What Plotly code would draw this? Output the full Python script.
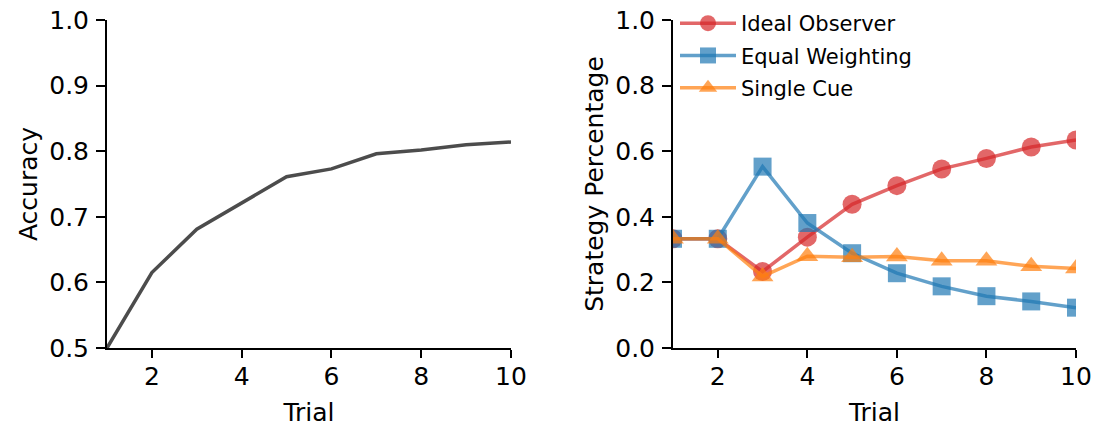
import plotly.graph_objects as go

trials = [1, 2, 3, 4, 5, 6, 7, 8, 9, 10]
accuracy = [0.500, 0.615, 0.681, 0.721, 0.761, 0.773, 0.796, 0.802, 0.810, 0.814]
ideal_observer = [0.333, 0.333, 0.233, 0.338, 0.438, 0.495, 0.546, 0.578, 0.613, 0.634]
equal_weighting = [0.333, 0.333, 0.553, 0.381, 0.289, 0.228, 0.188, 0.158, 0.142, 0.123]
single_cue = [0.333, 0.333, 0.218, 0.280, 0.277, 0.279, 0.266, 0.266, 0.249, 0.242]
x_ticks = [2, 4, 6, 8, 10]
acc_ticks = [0.5, 0.6, 0.7, 0.8, 0.9, 1.0]
strat_ticks = [0.0, 0.2, 0.4, 0.6, 0.8, 1.0]

W, H = 1095, 427
FONT = "DejaVu Sans"
L, R, T, B = 107, W - 1076, 20, H - 348
PW = W - L - R

fig = go.Figure()

fig.add_trace(go.Scatter(
    x=trials, y=accuracy, mode="lines",
    line=dict(color="rgba(0,0,0,0.7)", width=3.5),
    showlegend=False, xaxis="x", yaxis="y",
))

series = [
    ("Ideal Observer", ideal_observer, "rgba(214,39,40,0.7)", "circle", 19),
    ("Equal Weighting", equal_weighting, "rgba(31,119,180,0.7)", "square", 18),
    ("Single Cue", single_cue, "rgba(255,127,14,0.7)", "triangle-up", 19),
]
for name, vals, col, sym, sz in series:
    fig.add_trace(go.Scatter(
        x=trials, y=vals, mode="lines+markers", name=name, legendgroup=name,
        line=dict(color=col, width=3.5),
        marker=dict(color=col, symbol=sym, size=sz, line=dict(width=0)),
        xaxis="x2", yaxis="y2",
    ))

axis_common = dict(
    showline=True, linecolor="black", linewidth=2,
    ticks="outside", tickwidth=2, tickcolor="black",
    showgrid=False, zeroline=False, automargin=False,
    ticklabeloverflow="allow",
    tickfont=dict(family=FONT, size=25, color="black"),
)
xtitle = dict(text="Trial", font=dict(family=FONT, size=25, color="black"), standoff=15)

fig.update_layout(
    width=W, height=H,
    margin=dict(l=L, r=R, t=T, b=B, autoexpand=False),
    paper_bgcolor="white", plot_bgcolor="white",
    font=dict(family=FONT, color="black"),
    xaxis=dict(domain=[0, (511 - L) / PW], range=[1, 10], tickvals=x_ticks,
               ticklen=8, ticklabelstandoff=-3,
               title=xtitle, anchor="y", **axis_common),
    yaxis=dict(domain=[0, 1], range=[0.5, 1.0], tickvals=acc_ticks, tickformat=".1f",
               ticklen=9, ticklabelstandoff=2,
               title=dict(text="Accuracy", font=dict(family=FONT, size=25, color="black"), standoff=4),
               anchor="x", **axis_common),
    xaxis2=dict(domain=[(673 - L) / PW, 1], range=[1, 10], tickvals=x_ticks,
                ticklen=8, ticklabelstandoff=-3,
                title=xtitle, anchor="y2", **axis_common),
    yaxis2=dict(domain=[0, 1], range=[0, 1.0], tickvals=strat_ticks, tickformat=".1f",
                ticklen=9, ticklabelstandoff=2,
                title=dict(text="Strategy Percentage", font=dict(family=FONT, size=25, color="black"), standoff=4),
                anchor="x2", **axis_common),
    legend=dict(x=(675 - L) / PW, y=1 + 17 / (H - T - B), xanchor="left", yanchor="top",
                bgcolor="rgba(0,0,0,0)", font=dict(family=FONT, size=21, color="black"),
                itemwidth=56, tracegroupgap=2),
)

fig.write_html(
    "out.html",
    config={"displayModeBar": False},
    post_script="document.body.style.margin='0';document.documentElement.style.overflow='hidden';",
)
